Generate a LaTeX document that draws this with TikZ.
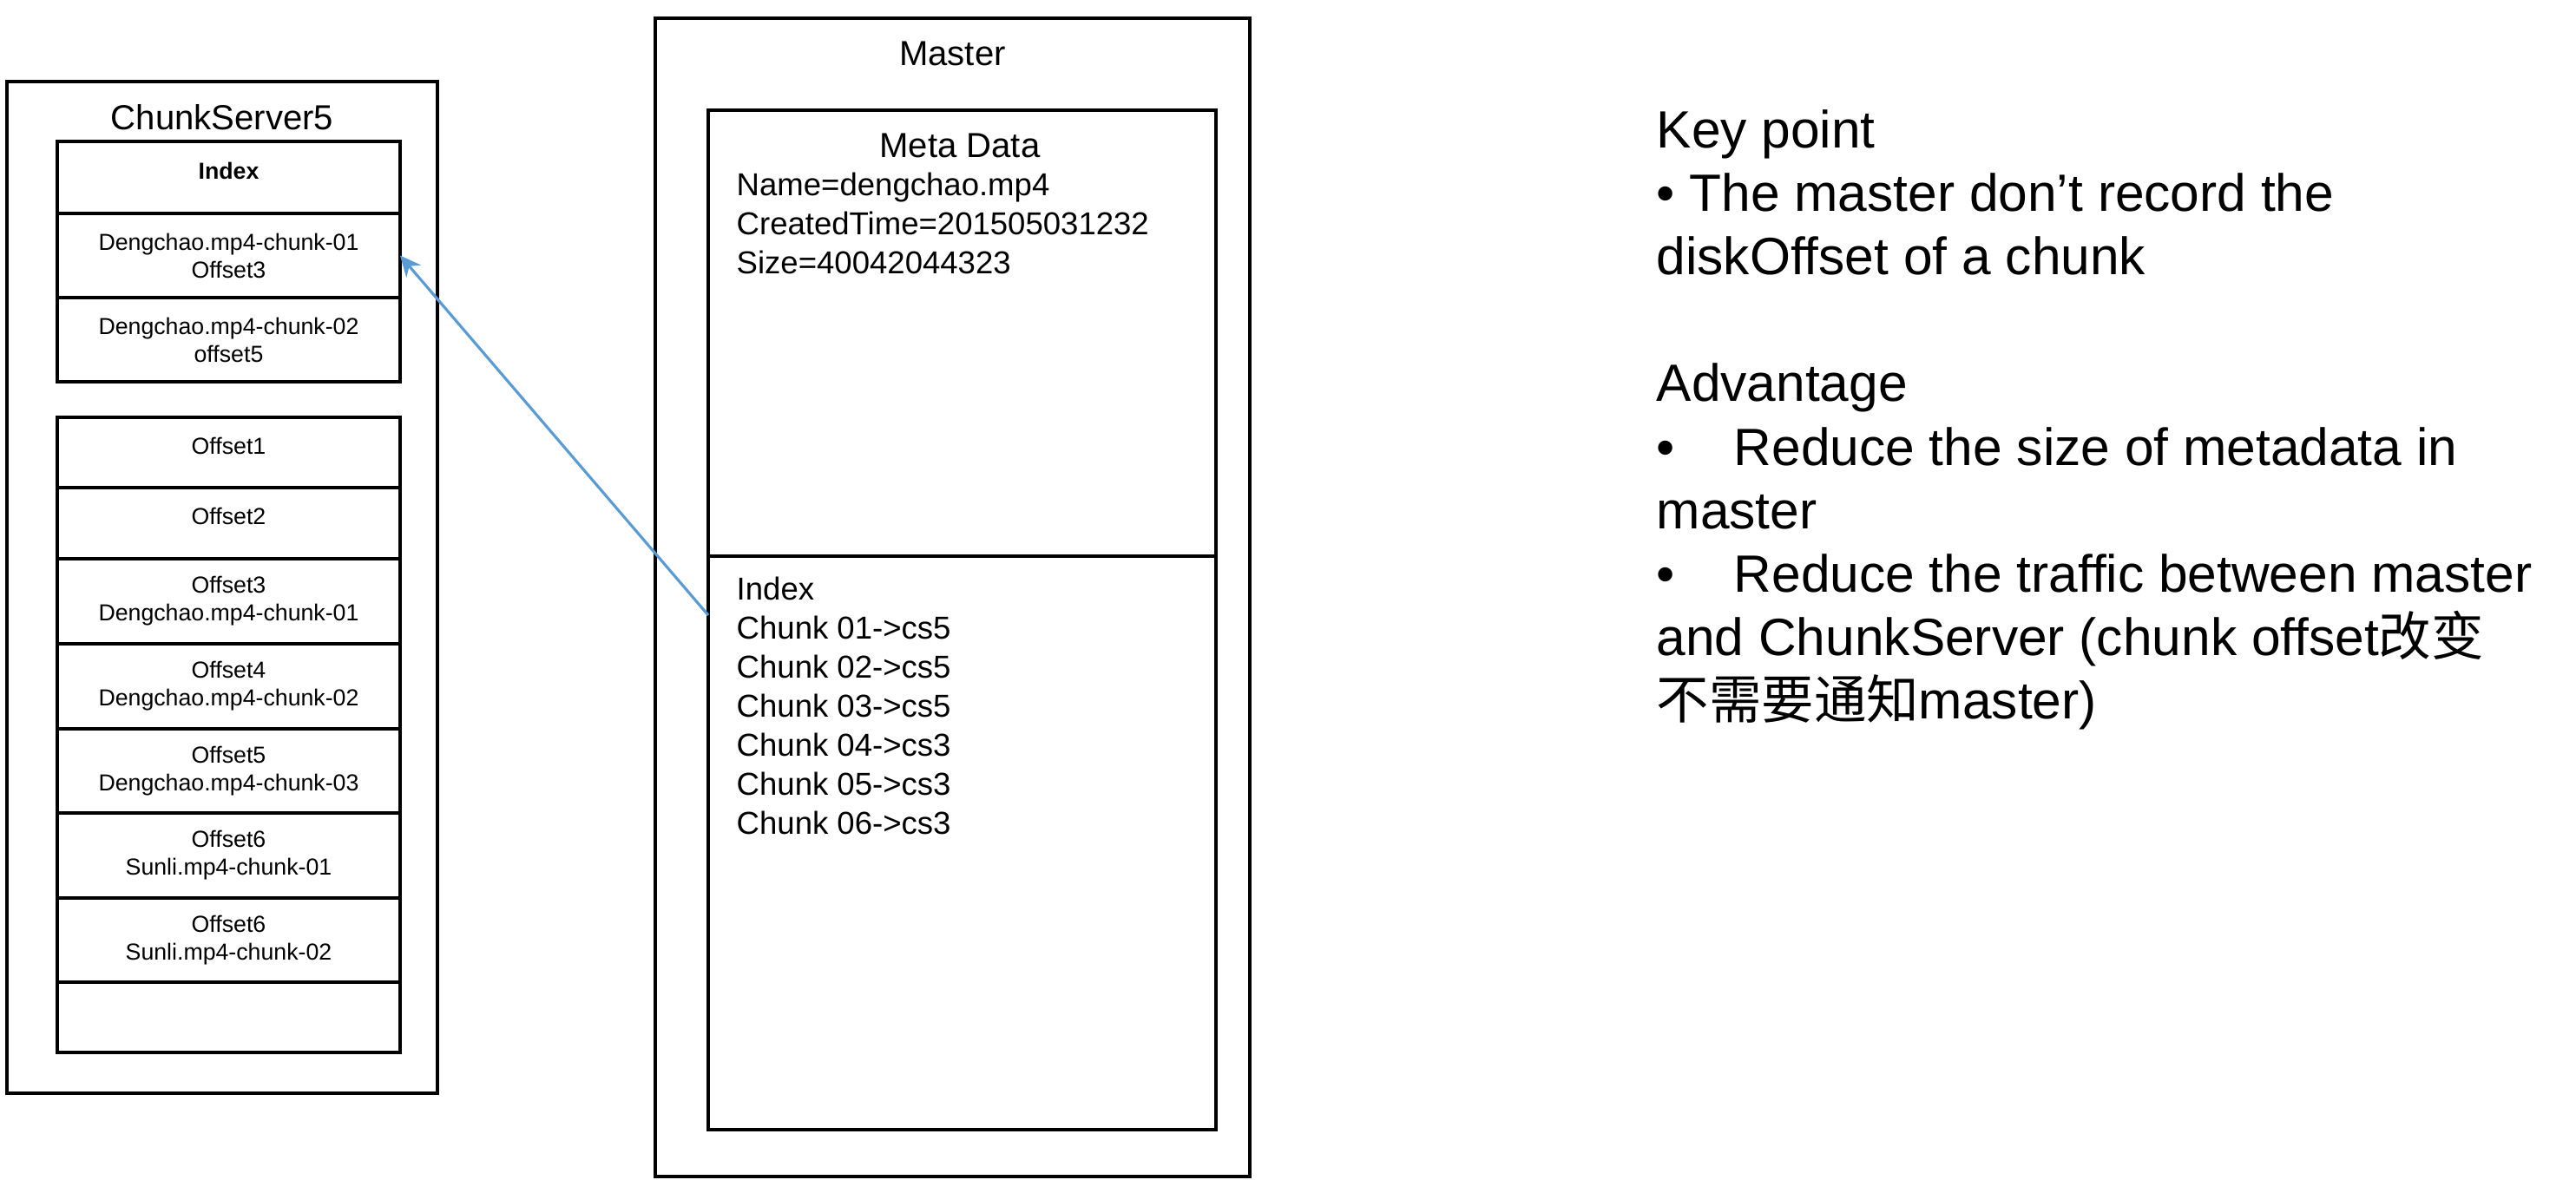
\documentclass[tikz,border=0pt]{standalone}
\usepackage{fontspec}
\setmainfont{Liberation Sans}
\newfontfamily\cjkfont{Noto Sans CJK SC}
\usetikzlibrary{arrows.meta,positioning}
\definecolor{linkblue}{HTML}{5B9BD5}

\begin{document}
\begin{tikzpicture}[font=\fontsize{10.4}{12.8}\selectfont]
    \tikzset{
        gfsbox/.style={
            draw=black,
            fill=white,
            line width=0.9pt,
            inner sep=0pt,
            outer sep=0pt
        },
        csrow/.style={
            gfsbox,
            minimum width=3.95cm,
            align=center,
            font=\fontsize{7.6}{9.1}\selectfont
        },
        csrowone/.style={
            csrow,
            text depth=0.16cm
        },
        boxtitle/.style={
            font=\fontsize{11.4}{13.7}\selectfont,
            inner sep=0pt
        },
        plaintext/.style={
            align=left,
            inner sep=0pt,
            anchor=north west
        },
        ptrarrow/.style={
            -{Stealth[length=2.4mm,width=2.2mm]},
            draw=linkblue,
            line width=0.9pt
        }
    }
    \useasboundingbox (0,0) rectangle (29.68,-13.74);

    % chunk server
    \node[gfsbox, minimum width=4.96cm, minimum height=11.66cm] (cs5) at (2.56,-6.77) {};
    \node[boxtitle, anchor=base] (cs5title) at (2.56,-1.49) {ChunkServer5};

    \node[csrowone, minimum height=0.83cm, anchor=north] (csidx) at (2.635,-1.63)
        {\textbf{Index}};
    \node[csrow, minimum height=0.97cm, below=0pt of csidx] (csidx1)
        {Dengchao.mp4-chunk-01\\Offset3};
    \node[csrow, minimum height=0.97cm, below=0pt of csidx1] (csidx2)
        {Dengchao.mp4-chunk-02\\offset5};

    \node[csrowone, minimum height=0.81cm, anchor=north] (off1) at (2.635,-4.81) {Offset1};
    \node[csrowone, minimum height=0.82cm, below=0pt of off1] (off2) {Offset2};
    \node[csrow, minimum height=0.98cm, below=0pt of off2] (off3)
        {Offset3\\Dengchao.mp4-chunk-01};
    \node[csrow, minimum height=0.98cm, below=0pt of off3] (off4)
        {Offset4\\Dengchao.mp4-chunk-02};
    \node[csrow, minimum height=0.97cm, below=0pt of off4] (off5)
        {Offset5\\Dengchao.mp4-chunk-03};
    \node[csrow, minimum height=0.98cm, below=0pt of off5] (off6)
        {Offset6\\Sunli.mp4-chunk-01};
    \node[csrow, minimum height=0.97cm, below=0pt of off6] (off7)
        {Offset6\\Sunli.mp4-chunk-02};
    \node[csrow, minimum height=0.81cm, below=0pt of off7] (offfree) {};

    % master
    \node[gfsbox, minimum width=6.85cm, minimum height=13.35cm] (master) at (10.975,-6.885) {};
    \node[boxtitle, anchor=base] (mastertitle) at (10.975,-0.76) {Master};

    \node[gfsbox, minimum width=5.85cm, minimum height=5.14cm, anchor=north] (meta)
        at (11.085,-1.27) {};
    \node[gfsbox, minimum width=5.85cm, minimum height=6.61cm, below=0pt of meta] (mindex) {};

    \node[boxtitle, anchor=base] (metatitle) at (11.06,-1.81) {Meta Data};
    \node[plaintext] (metalines) at (8.48,-1.98)
        {Name=dengchao.mp4\\CreatedTime=201505031232\\Size=40042044323};

    \node[inner sep=0pt, anchor=base west] (mindextitle) at (8.48,-6.91) {Index};
    \node[plaintext] (chunklist) at (8.48,-7.09)
        {Chunk 01->cs5\\Chunk 02->cs5\\Chunk 03->cs5\\Chunk 04->cs3\\Chunk 05->cs3\\Chunk 06->cs3};

    \draw[ptrarrow] (chunklist.north -| mindex.west) -- (csidx1.east);

    % notes
    \node[plaintext, font=\fontsize{17.2}{20.8}\selectfont] (keypoint) at (19.08,-1.26)
        {Key point\\
         • The master don’t record the\\
         diskOffset of a chunk\\[20.8pt]
         Advantage\\
         •\hspace{0.68cm}Reduce the size of metadata in\\
         master\\
         •\hspace{0.68cm}Reduce the traffic between master\\
         and ChunkServer (chunk offset{\cjkfont 改变}\\
         {\cjkfont 不需要通知}master)};
\end{tikzpicture}
\end{document}
